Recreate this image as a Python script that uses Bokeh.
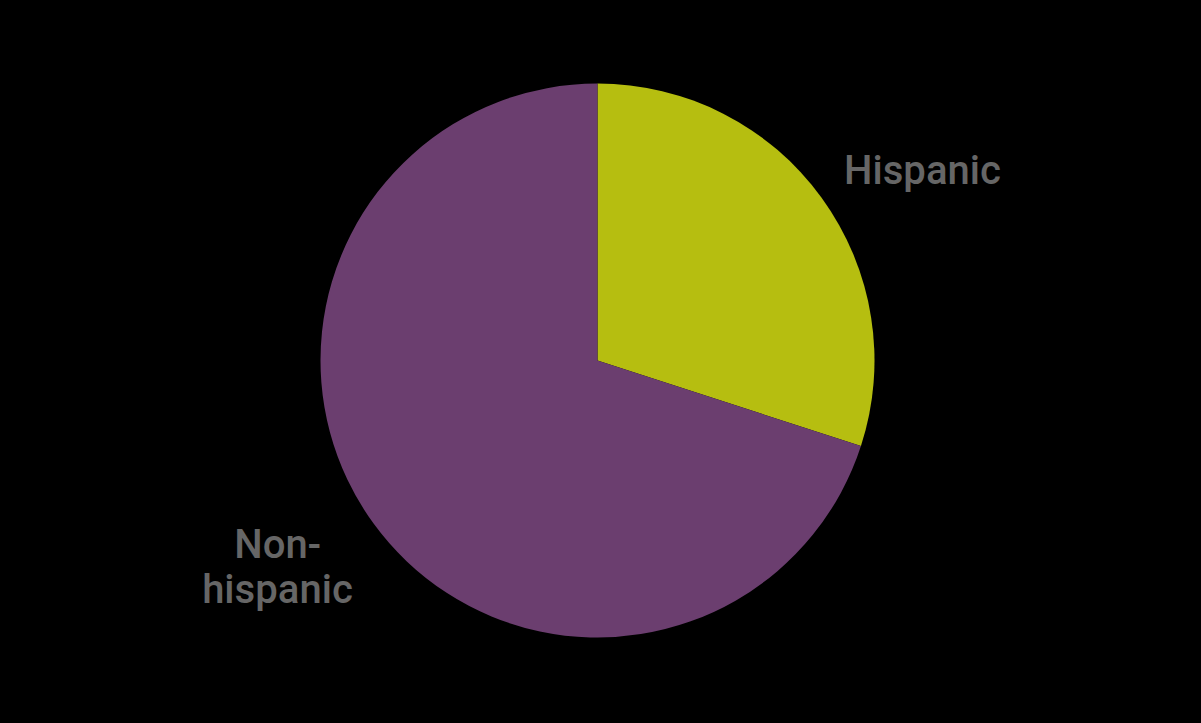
import math
from bokeh.plotting import figure
from bokeh.models import ColumnDataSource
from bokeh.core.properties import value
from bokeh.embed import file_html
from bokeh.resources import INLINE

categories = ["Hispanic", "Non-hispanic"]
shares = [30, 70]
colors = ["#B6BE10", "#6B3E6F"]
label_lines = [["Hispanic"], ["Non-", "hispanic"]]

W, H = 1185, 707
p = figure(width=W, height=H, output_backend="svg", toolbar_location=None,
           x_range=(0, W), y_range=(0, H), min_border=0,
           background_fill_color="#000000", border_fill_color="#000000",
           outline_line_color=None)
p.axis.visible = False
p.grid.visible = False

cx, cy, r = 597, H - 360, 277
total = sum(shares)
starts, ends = [], []
acc = 0.0
for s in shares:
    a0 = math.pi / 2 - 2 * math.pi * acc / total
    acc += s
    a1 = math.pi / 2 - 2 * math.pi * acc / total
    starts.append(a0)
    ends.append(a1)

src = ColumnDataSource(dict(cat=categories, share=shares, color=colors,
                            start=starts, end=ends))
p.wedge(x=cx, y=cy, radius=r, start_angle="start", end_angle="end",
        direction="clock", fill_color="color", line_color=None, source=src)

# label anchors in page pixels (baseline of first line, centered)
anchors = [(922, 170), (277, 544)]
line_gap = 45
tx, ty, tt = [], [], []
for (ax, ay), lines in zip(anchors, label_lines):
    for i, ln in enumerate(lines):
        tx.append(ax)
        ty.append(H - (ay + i * line_gap))
        tt.append(ln)
p.text(x=tx, y=ty, text=tt, text_font=value("Roboto Medium, Roboto"), text_font_size="40px",
       text_color="#666666", text_align="center", text_baseline="alphabetic")

html = file_html(p, INLINE).replace("<body>", '<body style="background-color:#000000;">')
open("out.html", "w").write(html)
